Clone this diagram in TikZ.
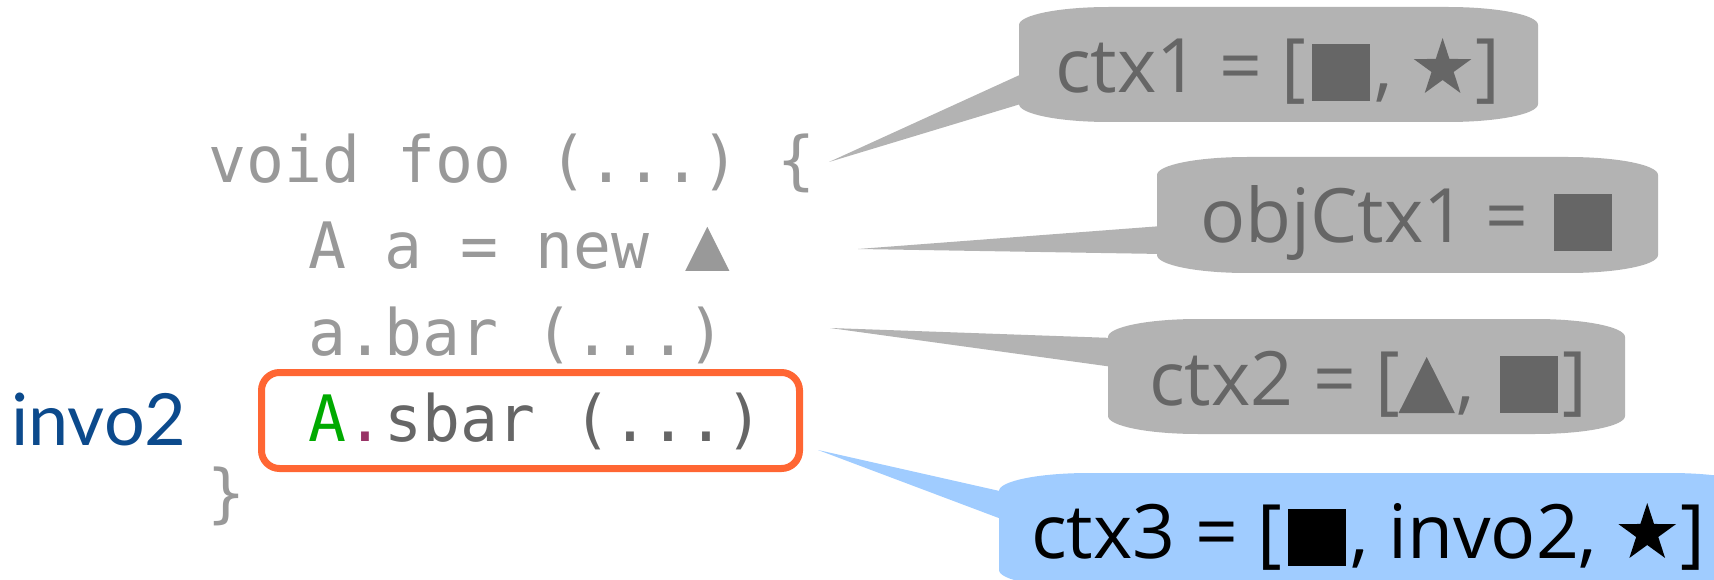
\documentclass[tikz,border=0pt]{standalone}
\usepackage{fontspec}
\setmainfont{Open Sans}
\newfontfamily\codefont[FakeStretch=0.985]{DejaVu Sans Mono}
\newfontfamily\handfont{Lato}
\frenchspacing

\definecolor{bubblegray}{HTML}{B3B3B3}
\definecolor{bubbletext}{HTML}{666666}
\definecolor{bubbleblue}{HTML}{A0CCFF}
\definecolor{codegray}{HTML}{999999}
\definecolor{codedark}{HTML}{666666}
\definecolor{codegreen}{HTML}{00AA00}
\definecolor{codedot}{HTML}{993366}
\definecolor{selorange}{HTML}{FF6633}
\definecolor{inkblue}{HTML}{0C4A8C}

% inline symbols used in the context lists
\newcommand{\symsq}{\kern0.08em\rule[-0.107em]{0.77em}{0.76em}\kern0.06em}
\newcommand{\symtri}{\kern-0.02em\tikz[baseline=0pt]\fill[fill=.] (0,-0.107em) -- (0.75em,-0.107em) -- (0.375em,0.64em) -- cycle;\kern0.02em}
\newcommand{\symstar}{\kern0.02em\tikz[baseline=0pt]\fill[fill=.,shift={(0.385em,0.328em)}]
  (90:0.405em) -- (126:0.155em) -- (162:0.405em) -- (198:0.155em) -- (234:0.405em) --
  (270:0.155em) -- (306:0.405em) -- (342:0.155em) -- (18:0.405em) -- (54:0.155em) -- cycle;\kern0.06em}
\newcommand{\codetri}{\kern-0.04em\tikz[baseline=0pt]\fill[fill=.] (0,-0.03em) -- (0.69em,-0.03em) -- (0.345em,0.66em) -- cycle;}

% speech-bubble body: fill, left, top, right, bottom
\newcommand{\calloutbody}[5]{\fill[#1] (#2,#3+18) .. controls (#2,#3+8) and (#2+40,#3) .. (#2+90,#3)
  -- (#4-90,#3) .. controls (#4-40,#3) and (#4,#3+8) .. (#4,#3+18)
  -- (#4,#5-18) .. controls (#4,#5-8) and (#4-40,#5) .. (#4-90,#5)
  -- (#2+90,#5) .. controls (#2+40,#5) and (#2,#5-8) .. (#2,#5-18) -- cycle;}

\tikzset{
  codeline/.style={anchor=base west, inner sep=0pt, text=codegray,
    font=\codefont\fontsize{64}{77}\selectfont},
  bubbletxt/.style={anchor=base west, inner sep=0pt, text=bubbletext,
    font=\fontsize{75}{90}\selectfont},
  seltbox/.style={draw=selorange, line width=7pt, rounded corners=18pt, inner sep=0pt},
}

\begin{document}
\begin{tikzpicture}[x=1pt,y=-1pt]
\useasboundingbox (0,0) rectangle (1714,580);
\clip (0,0) rectangle (1714,580);

% code
\node[codeline] (l1) at (208,183) {void foo (...) \{};
\node[codeline] (l2) at (308,269) {A a = new \codetri};
\node[codeline] (l3) at (308,355) {a.bar (...)};
\node[codeline, text=codedark] (l4) at (308,441) {\textcolor{codegreen}{A}\textcolor{codedot}{.}sbar (...)};
\node[codeline] (l5) at (207,515) {\}};
\node[seltbox, minimum width=538, minimum height=96] (sel) at (530.5,420.5) {};

\node[anchor=base west, inner sep=0pt, text=inkblue, font=\handfont\fontsize{72}{86}\selectfont] (inv) at (11,445) {invo2};

% pointer tips
\coordinate (tip1) at (829,162);
\coordinate (tip2) at (858,249);
\coordinate (tip3) at (830,328);
\coordinate (tip4) at (818,450);

% callouts
\fill[bubblegray] (tip1) -- (1024,73) -- (1024,103) -- cycle;
\calloutbody{bubblegray}{1019}{7}{1538}{122}
\fill[bubblegray] (tip2) -- (1162,226) -- (1162,254) -- cycle;
\calloutbody{bubblegray}{1157}{157}{1658}{273}
\fill[bubblegray] (tip3) -- (1113,338) -- (1113,367) -- cycle;
\calloutbody{bubblegray}{1108}{319}{1625}{434}
\fill[bubbleblue] (tip4) -- (1004,492) -- (1004,520) -- cycle;
\calloutbody{bubbleblue}{999}{473}{1760}{588}

\node[bubbletxt] (c1) at (1055,93) {ctx1 = [\symsq, \symstar]};
\node[bubbletxt] (c2) at (1200,243) {objCtx1 = \symsq};
\node[bubbletxt] (c3) at (1149,405) {ctx2 = [\symtri, \symsq]};
\node[bubbletxt, text=black] (c4) at (1031,558) {ctx3 = [\symsq, invo2, \symstar]};
\end{tikzpicture}
\end{document}
